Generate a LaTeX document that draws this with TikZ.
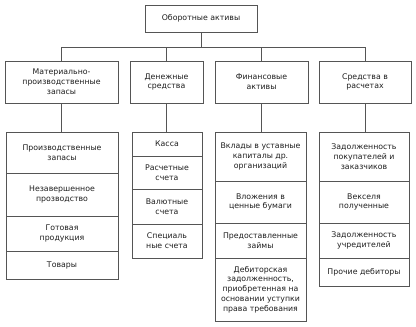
\documentclass[tikz,border=0pt]{standalone}
\usepackage{fontspec}
\setmainfont{DejaVu Sans}
\definecolor{boxgray}{RGB}{85,85,85}
\definecolor{txtgray}{RGB}{30,30,30}
\usetikzlibrary{calc}

\begin{document}
\begin{tikzpicture}[x=1pt,y=-1pt,
  box/.style={draw=boxgray,line width=0.9pt,inner sep=1pt,align=center,
    font=\fontsize{7.8}{9.8}\selectfont,text=txtgray},
  link/.style={draw=boxgray,line width=0.9pt}
]
  \useasboundingbox (0,0) rectangle (416,327);
  % Root
  \node[box,minimum width=112,minimum height=27] (root) at (201,18.5) {Оборотные активы};
  % Groups
  \node[box,minimum width=113,minimum height=42] (mpz) at (61.5,82) {Материально-\\производственные\\запасы};
  \node[box,minimum width=73,minimum height=42] (den) at (166.5,82) {Денежные\\средства};
  \node[box,minimum width=93,minimum height=42] (fin) at (261.5,82) {Финансовые\\активы};
  \node[box,minimum width=92,minimum height=42] (ras) at (365,82) {Средства в\\расчетах};
  % Inventories
  \node[box,minimum width=112,minimum height=41] (mpz1) at (62,152.5) {Производственные\\запасы};
  \node[box,minimum width=112,minimum height=43] (mpz2) at (62,194.5) {Незавершенное\\прозводство};
  \node[box,minimum width=112,minimum height=35] (mpz3) at (62,233.5) {Готовая\\продукция};
  \node[box,minimum width=112,minimum height=28] (mpz4) at (62,265) {Товары};
  % Cash
  \node[box,minimum width=70,minimum height=24] (den1) at (167,144) {Касса};
  \node[box,minimum width=70,minimum height=33] (den2) at (167,172.5) {Расчетные\\счета};
  \node[box,minimum width=70,minimum height=35] (den3) at (167,206.5) {Валютные\\счета};
  \node[box,minimum width=70,minimum height=34] (den4) at (167,241) {Специаль\\ные счета};
  % Financial assets
  \node[box,minimum width=91,minimum height=49] (fin1) at (260.5,156.5) {Вклады в уставные\\капиталы др.\\организаций};
  \node[box,minimum width=91,minimum height=42] (fin2) at (260.5,202) {Вложения в\\ценные бумаги};
  \node[box,minimum width=91,minimum height=35] (fin3) at (260.5,240.5) {Предоставленные\\займы};
  \node[box,minimum width=91,minimum height=63] (fin4) at (260.5,289.5) {Дебиторская\\задолженность,\\приобретенная на\\основании уступки\\права требования};
  % Receivables
  \node[box,minimum width=90,minimum height=49] (ras1) at (364,156.5) {Задолженность\\покупателей и\\заказчиков};
  \node[box,minimum width=90,minimum height=42] (ras2) at (364,202) {Векселя\\полученные};
  \node[box,minimum width=90,minimum height=35] (ras3) at (364,240.5) {Задолженность\\учредителей};
  \node[box,minimum width=90,minimum height=28] (ras4) at (364,272) {Прочие дебиторы};
  % Links
  \coordinate (bus) at (0,47);
  \draw[link] (root.south) -- (root.south |- bus);
  \draw[link] (mpz.north) -- (mpz.north |- bus) -| (ras.north);
  \draw[link] (den.north) -- (den.north |- bus);
  \draw[link] (fin.north) -- (fin.north |- bus);
  \draw[link] (mpz.south) -- (mpz.south |- mpz1.north);
  \draw[link] (den.south) -- (den.south |- den1.north);
  \draw[link] (fin.south) -- (fin.south |- fin1.north);
  \draw[link] (ras.south) -- (ras.south |- ras1.north);
\end{tikzpicture}
\end{document}
